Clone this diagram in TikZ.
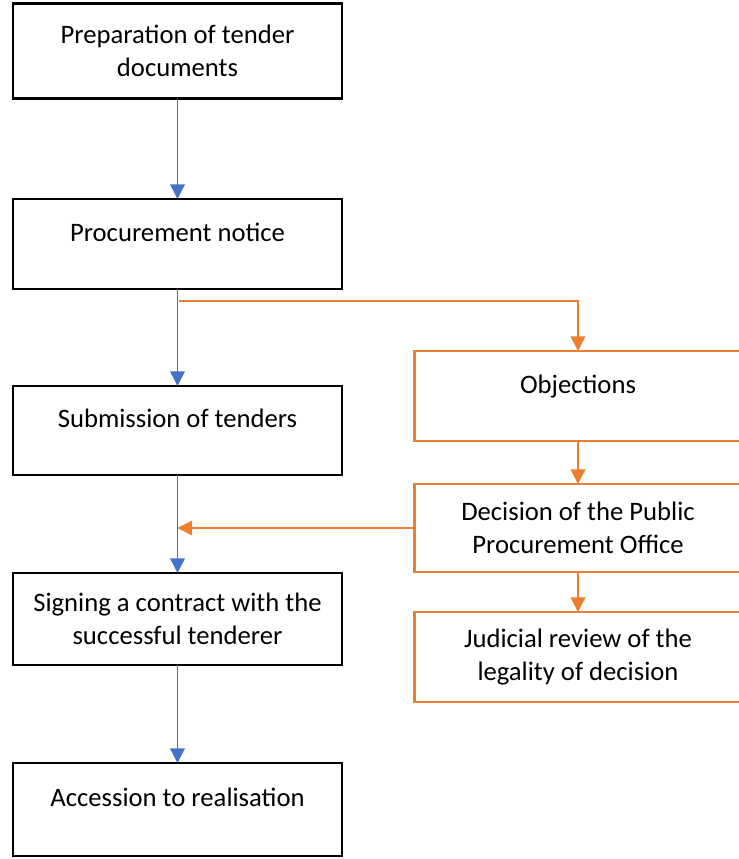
\documentclass[tikz,border=0pt]{standalone}
\usepackage{fontspec}
\setmainfont{Carlito}
\usetikzlibrary{calc,arrows.meta,positioning}
\definecolor{flowblue}{RGB}{68,114,196}
\definecolor{floworange}{RGB}{237,125,49}

\begin{document}
\begin{tikzpicture}[x=0.75pt,y=-0.75pt,every node/.style={outer sep=0pt}]

\tikzstyle{stage}=[draw=black,line width=2.2pt,minimum width=246.75pt,align=center,font=\fontsize{20}{24.6}\selectfont]
\tikzstyle{appeal}=[stage,draw=floworange,minimum width=245.25pt]
\tikzstyle{oneline}=[text height=14pt,text depth=18.5pt]
\tikzstyle{mainflow}=[draw=flowblue,line width=1.1pt,-{Triangle[length=11pt,width=11pt]}]
\tikzstyle{sideflow}=[draw=floworange,line width=1.1pt,-{Triangle[length=11pt,width=11pt]}]

\useasboundingbox (0,0) rectangle (738,859);

% main procedure
\node (prep) at (177.5,51) [stage,minimum height=71.5pt] {Preparation of tender\\documents};
\node (notice) at (177.5,244) [stage,oneline,minimum height=67.5pt] {Procurement notice};
\node (submit) at (177.5,430.5) [stage,oneline,minimum height=66.75pt] {Submission of tenders};
\node (sign) at (177.5,619) [stage,minimum height=69pt] {Signing a contract with the\\successful tenderer};
\node (access) at (177.5,809.5) [stage,oneline,minimum height=69.75pt] {Accession to realisation};

% review procedure
\node (obj) at (578,396) [appeal,oneline,minimum height=67.5pt] {Objections};
\node (dec) at (578,528) [appeal,minimum height=66pt] {Decision of the Public\\Procurement Office};
\node (court) at (578,657) [appeal,minimum height=67.5pt] {Judicial review of the\\legality of decision};

\coordinate (split) at ($(notice.south)+(1.5,12)$);
\coordinate (merge) at (submit.south |- dec.west);

\draw [mainflow] (prep) -- (notice);
\draw [mainflow] (notice) -- (submit);
\draw [mainflow] (submit) -- (sign);
\draw [mainflow] (sign) -- (access);

\draw [sideflow] (split) -| (obj.north);
\draw [sideflow] (obj) -- (dec);
\draw [sideflow] (dec) -- (court);
\draw [sideflow] (dec.west) -- (merge);

\end{tikzpicture}
\end{document}
